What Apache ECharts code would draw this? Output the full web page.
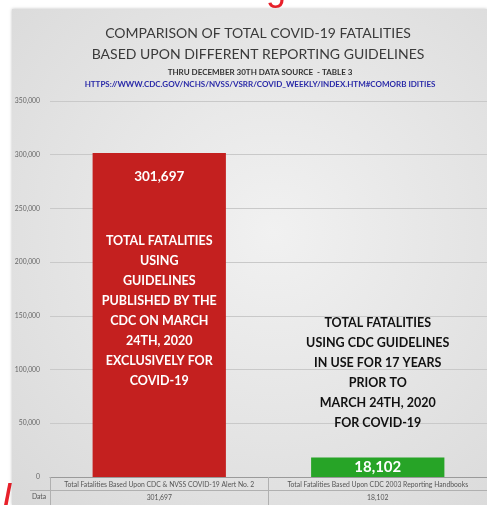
<!DOCTYPE html>
<html>
<head>
<meta charset="utf-8">
<script src="https://cdn.jsdelivr.net/npm/echarts@6/dist/echarts.min.js"></script>
<style>
  html, body { margin: 0; padding: 0; background: #fff; }
  #main { width: 487px; height: 505px; }
</style>
</head>
<body>
<div id="main"></div>
<script>
// categories / values
var categories = [
    'Total Fatalities Based Upon CDC & NVSS COVID-19 Alert No. 2',
    'Total Fatalities Based Upon CDC 2003 Reporting Handbooks'
];
var fatalities = [301697, 18102];
var barColors = ['#c4201f', '#27a427'];
var yTicks = [0, 50000, 100000, 150000, 200000, 250000, 300000, 350000];

// texts written over the bars
var noteRed = ['TOTAL FATALITIES', 'USING', 'GUIDELINES', 'PUBLISHED BY THE',
    'CDC ON MARCH', '24TH, 2020', 'EXCLUSIVELY FOR', 'COVID-19'];
var noteGreen = ['TOTAL FATALITIES', 'USING CDC GUIDELINES', 'IN USE FOR 17 YEARS',
    'PRIOR TO', 'MARCH 24TH, 2020', 'FOR COVID-19'];
// where the note blocks sit (value on the y scale)
var noteAt = [154500, 96800];

var FONT = 'Lato';
function fmt(v) { return v.toLocaleString('en-US'); }

var myChart = echarts.init(document.getElementById('main'));

var option = {
    backgroundColor: '#fff',
    animation: false,
    title: [
        {
            text: 'COMPARISON OF TOTAL COVID-19 FATALITIES\nBASED UPON DIFFERENT REPORTING GUIDELINES',
            left: 253, top: 18, textAlign: 'center',
            textStyle: { fontFamily: FONT, fontSize: 14, fontWeight: 'normal', color: '#3a3a3a', lineHeight: 21 }
        },
        {
            text: 'THRU DECEMBER 30TH DATA SOURCE  - TABLE 3',
            subtext: 'HTTPS://WWW.CDC.GOV/NCHS/NVSS/VSRR/COVID_WEEKLY/INDEX.HTM#COMORB IDITIES',
            left: 255, top: 63, textAlign: 'center', itemGap: 4,
            textStyle: { fontFamily: FONT, fontSize: 8, fontWeight: 'bold', color: '#333' },
            subtextStyle: { fontFamily: FONT, fontSize: 8, fontWeight: 'bold', color: '#2a2aa8' }
        }
    ],
    grid: { left: 50, right: 0, top: 101, bottom: 28 },
    xAxis: [
        {
            type: 'category',
            data: categories,
            position: 'bottom',
            axisLine: { show: true, lineStyle: { color: '#9a9a9a' } },
            axisTick: { show: true, length: 28, alignWithLabel: false, lineStyle: { color: '#b0b0b0' } },
            axisLabel: { interval: 0, margin: 4, fontFamily: FONT, fontSize: 6.8, color: '#555' }
        },
        {
            type: 'category',
            data: fatalities.map(fmt),
            position: 'bottom',
            offset: 13,
            axisLine: { show: true, lineStyle: { color: '#b0b0b0' } },
            axisTick: { show: false },
            axisLabel: { interval: 0, margin: 4, fontFamily: FONT, fontSize: 6.8, color: '#555' }
        }
    ],
    yAxis: {
        type: 'value',
        min: yTicks[0],
        max: yTicks[yTicks.length - 1],
        interval: 50000,
        axisLine: { show: false },
        axisTick: { show: false },
        splitLine: { lineStyle: { color: '#c9c9c9' } },
        axisLabel: { margin: 10, fontFamily: FONT, fontSize: 6.8, color: '#666', formatter: fmt }
    },
    series: [
        {
            type: 'bar',
            barWidth: '61%',
            data: fatalities.map(function (v, i) {
                return {
                    value: v,
                    itemStyle: { color: barColors[i] },
                    // tall bar: value near its top; short bar: value centred
                    label: i === 0
                        ? { position: 'insideTop', distance: 17, fontSize: 13.5 }
                        : { position: 'inside', fontSize: 15 }
                };
            }),
            label: {
                show: true,
                fontFamily: FONT,
                fontWeight: 'bold',
                color: '#fff',
                formatter: function (p) { return fmt(p.value); }
            },
            markPoint: {
                symbol: 'circle',
                symbolSize: 0,
                data: [
                    {
                        coord: [0, noteAt[0]],
                        label: {
                            show: true, position: 'inside', formatter: noteRed.join('\n'),
                            fontFamily: FONT, fontSize: 12.5, fontWeight: 'bold', color: '#fff', lineHeight: 20, align: 'center'
                        }
                    },
                    {
                        coord: [1, noteAt[1]],
                        label: {
                            show: true, position: 'inside', formatter: noteGreen.join('\n'),
                            fontFamily: FONT, fontSize: 12.5, fontWeight: 'bold', color: '#111', lineHeight: 20, align: 'center'
                        }
                    }
                ]
            }
        }
    ],
    graphic: [
        // red fragments at the edges of the snapshot
        {
            type: 'text', x: 276, y: 8, z: -20,
            style: { text: 'g', font: '36px "Liberation Sans"', fill: '#e8202a', textAlign: 'center', textVerticalAlign: 'bottom' }
        },
        {
            type: 'text', x: 8, y: 512, z: -20,
            style: { text: '/', font: 'bold 30px "Liberation Sans"', fill: '#e8202a', textAlign: 'center', textVerticalAlign: 'bottom' }
        },
        // slide panel
        {
            type: 'rect', z: -10, silent: true,
            shape: { x: 12, y: 9, width: 475, height: 496 },
            style: {
                fill: new echarts.graphic.RadialGradient(0.55, 0.45, 0.8, [
                    { offset: 0, color: '#f1f1f1' },
                    { offset: 1, color: '#d9d9d9' }
                ]),
                shadowBlur: 3, shadowColor: 'rgba(0,0,0,0.25)'
            }
        },
        // data table row header
        {
            type: 'line', z: 5, silent: true,
            shape: { x1: 30, y1: 490.5, x2: 50, y2: 490.5 },
            style: { stroke: '#b0b0b0', lineWidth: 1 }
        },
        {
            type: 'text', x: 39, y: 497, z: 5,
            style: { text: 'Data', font: '6.8px ' + FONT, fill: '#555', textAlign: 'center', textVerticalAlign: 'middle' }
        }
    ]
};

myChart.setOption(option);
</script>
</body>
</html>
